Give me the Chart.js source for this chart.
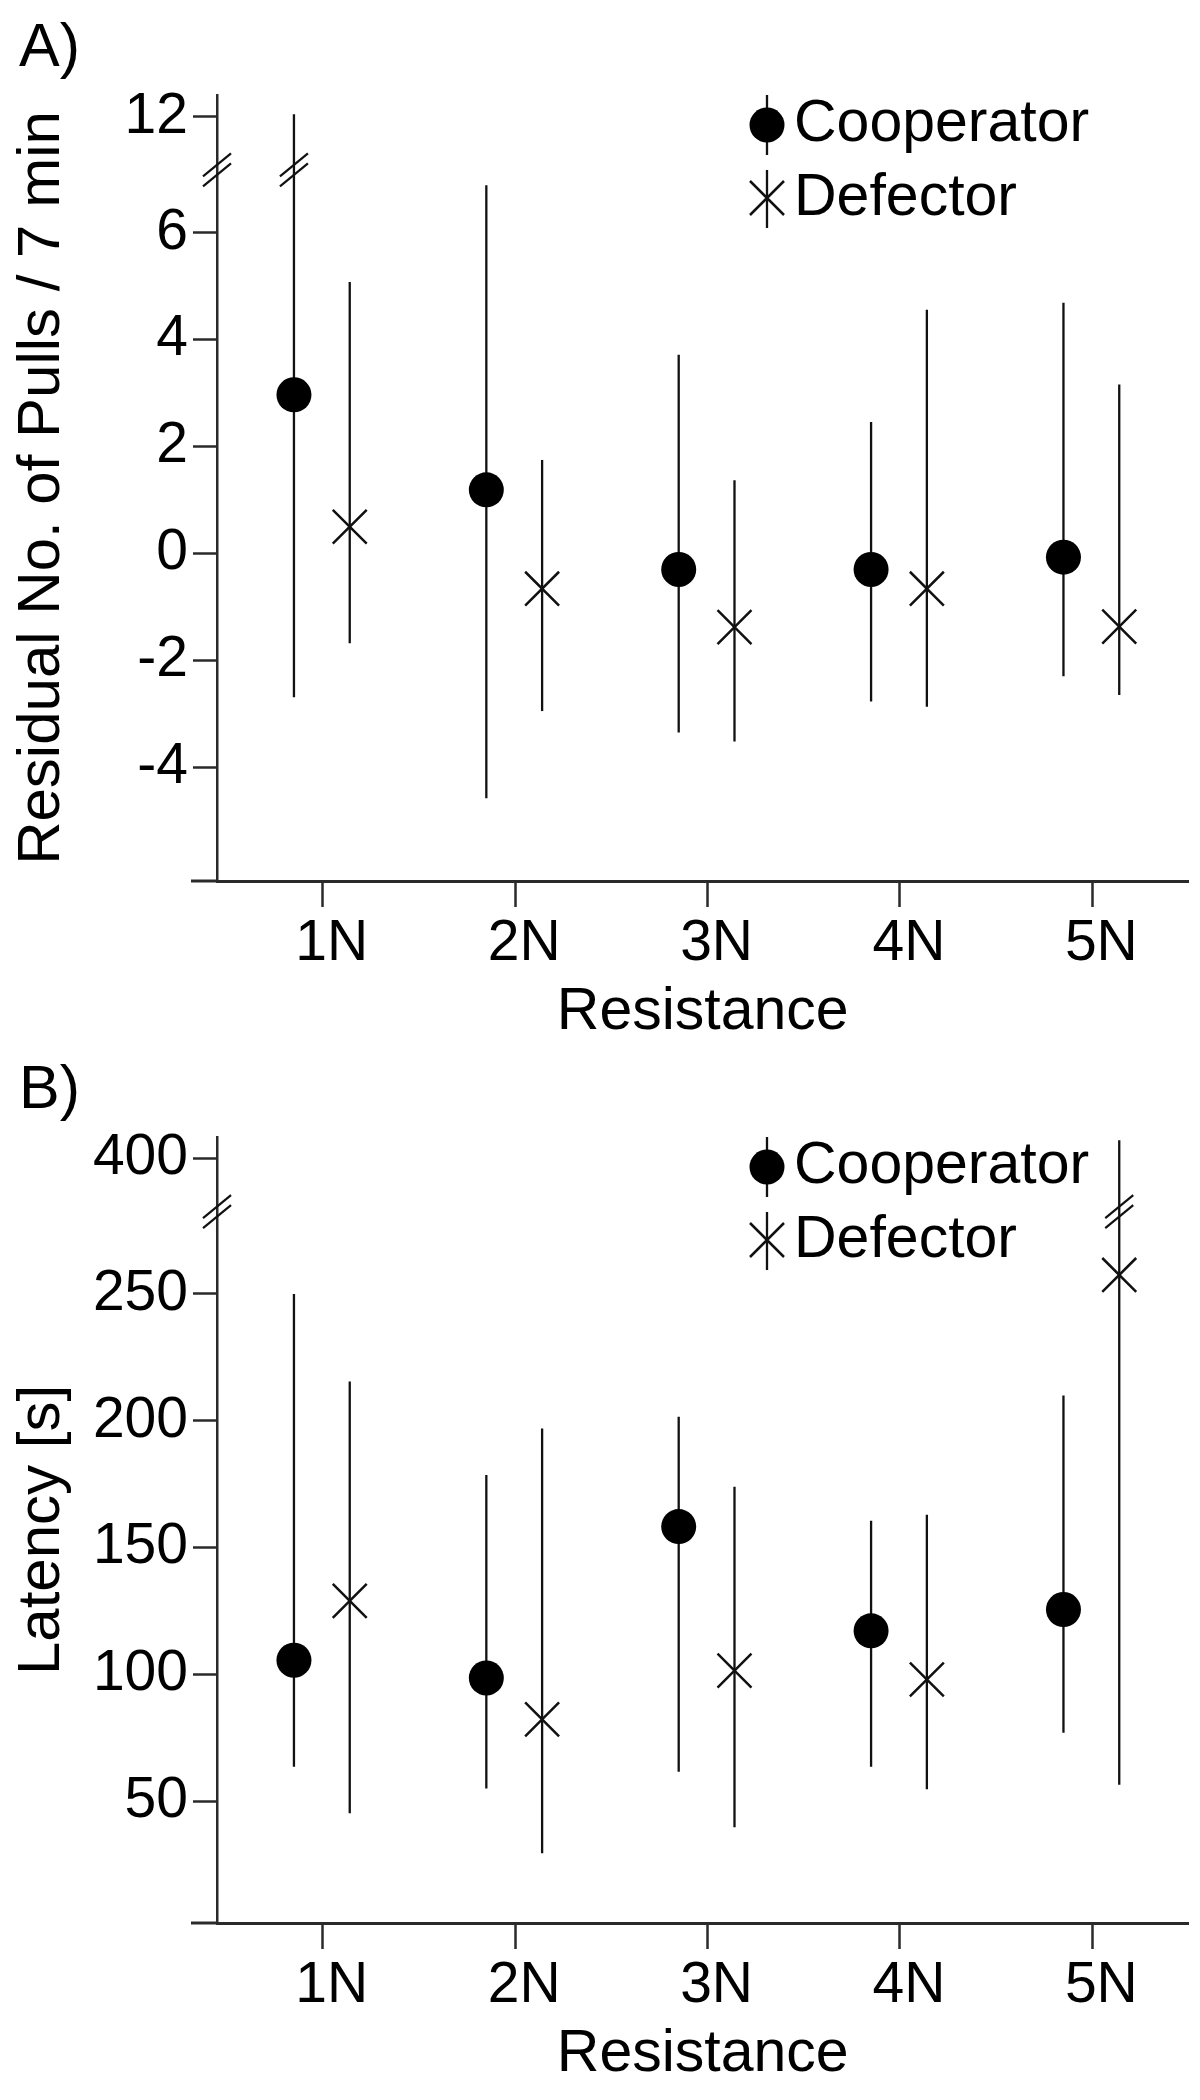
<!DOCTYPE html>
<html lang="en">
<head>
<meta charset="UTF-8">
<title>Cooperator / Defector</title>
<script src="https://cdn.jsdelivr.net/npm/chart.js"></script>
<style>
  body { margin: 0; background: #fff; overflow: hidden; }
  #wrap { position: relative; width: 1200px; height: 2100px; overflow: hidden; }
  canvas { position: absolute; left: 0; }
  #chartA { top: 0; }
  #chartB { top: 1042px; }
</style>
</head>
<body>
<div id="wrap">
  <canvas id="chartA" width="1215" height="1060"></canvas>
  <canvas id="chartB" width="1215" height="1058"></canvas>
</div>
<script>
const categories = ['1N', '2N', '3N', '4N', '5N'];

// A) residual number of pulls / 7 min
const pullsTicks    = [-4, -2, 0, 2, 4, 6, 12];
const pullsCoopMean = [2.97, 1.19, -0.30, -0.30, -0.07];
const pullsCoopLow  = [-2.69, -4.58, -3.35, -2.77, -2.30];
const pullsCoopHigh = [12.05, 6.89, 3.72, 2.46, 4.69];
const pullsDefMean  = [0.50, -0.66, -1.38, -0.66, -1.37];
const pullsDefLow   = [-1.68, -2.95, -3.52, -2.87, -2.65];
const pullsDefHigh  = [5.08, 1.75, 1.37, 4.56, 3.16];

// B) latency [s]
const latTicks    = [50, 100, 150, 200, 250, 400];
const latCoopMean = [105.6, 98.6, 158.3, 117.2, 125.6];
const latCoopLow  = [63.6, 55.0, 61.6, 63.6, 77.0];
const latCoopHigh = [250.0, 178.6, 201.6, 160.6, 210.0];
const latDefMean  = [129.0, 82.3, 101.5, 98.0, 257.5];
const latDefLow   = [45.3, 29.5, 39.8, 54.7, 56.5];
const latDefHigh  = [215.5, 197.0, 174.0, 163.0, 407.0];

const FONT = "'Liberation Sans', Arial, sans-serif";
const INK = '#111';
const AXIS = '#2a2a2a';

function drawBreak(ctx, cx, cy) {
  ctx.save();
  ctx.strokeStyle = INK;
  ctx.lineWidth = 2.2;
  [-5, 5].forEach(o => {
    ctx.beginPath();
    ctx.moveTo(cx - 14, cy + o + 11.5);
    ctx.lineTo(cx + 14, cy + o - 11.5);
    ctx.stroke();
  });
  ctx.restore();
}

// vertical error bars behind the markers, with a // where a bar crosses the break
const errorBars = {
  id: 'errorBars',
  beforeDatasetsDraw(chart, args, opts) {
    const {ctx, scales: {x, y}} = chart;
    ctx.save();
    ctx.strokeStyle = INK;
    ctx.lineWidth = 2.3;
    chart.data.datasets.forEach(ds => {
      ds.data.forEach(p => {
        const px = x.getPixelForValue(p.x);
        ctx.beginPath();
        ctx.moveTo(px, y.getPixelForValue(p.lo));
        ctx.lineTo(px, y.getPixelForValue(p.hi));
        ctx.stroke();
        if (p.cut) drawBreak(ctx, px, y.getPixelForValue(opts.breakAt));
      });
    });
    ctx.restore();
  },
  afterDraw(chart, args, opts) {
    const {ctx, chartArea, scales: {y}} = chart;
    // axis break and the bit of x axis left of the y axis
    drawBreak(ctx, chartArea.left, y.getPixelForValue(opts.breakAt));
    ctx.save();
    ctx.strokeStyle = AXIS;
    ctx.lineWidth = 3;
    ctx.beginPath();
    ctx.moveTo(chartArea.left - 26, chartArea.bottom);
    ctx.lineTo(chartArea.left, chartArea.bottom);
    ctx.stroke();

    // panel letter
    ctx.fillStyle = '#000';
    ctx.font = '61px ' + FONT;
    ctx.textBaseline = 'alphabetic';
    ctx.textAlign = 'left';
    ctx.fillText(opts.panel, 19, 66);

    // legend
    const lx = 767;
    ctx.strokeStyle = INK;
    ctx.lineWidth = 2.3;
    ctx.beginPath();
    ctx.moveTo(lx, 95); ctx.lineTo(lx, 155);
    ctx.moveTo(lx, 170); ctx.lineTo(lx, 228);
    ctx.stroke();
    ctx.fillStyle = '#000';
    ctx.beginPath();
    ctx.arc(lx, 125, 17.5, 0, Math.PI * 2);
    ctx.fill();
    ctx.lineWidth = 2.5;
    ctx.beginPath();
    ctx.moveTo(lx - 17, 181); ctx.lineTo(lx + 17, 215);
    ctx.moveTo(lx - 17, 215); ctx.lineTo(lx + 17, 181);
    ctx.stroke();
    ctx.font = '59px ' + FONT;
    ctx.fillText('Cooperator', 794, 141);
    ctx.fillText('Defector', 794, 215);
    ctx.restore();
  }
};

function makeChart(id, cfg) {
  const disp = v => v > cfg.cutFrom ? v - cfg.shift : v;
  const points = (mean, low, high, dx) => mean.map((m, i) => ({
    x: i + 1 + dx,
    y: disp(m),
    lo: disp(low[i]),
    hi: disp(high[i]),
    cut: high[i] > cfg.cutFrom
  }));
  const font = {family: FONT, size: 57};

  return new Chart(document.getElementById(id), {
    type: 'scatter',
    data: {
      datasets: [
        {
          label: 'Cooperator',
          data: points(cfg.coopMean, cfg.coopLow, cfg.coopHigh, -0.15),
          pointStyle: 'circle',
          pointRadius: 17.5,
          pointBackgroundColor: '#000',
          pointBorderColor: '#000',
          pointBorderWidth: 0,
          clip: false
        },
        {
          label: 'Defector',
          data: points(cfg.defMean, cfg.defLow, cfg.defHigh, 0.14),
          pointStyle: 'crossRot',
          pointRadius: 24,
          pointBorderColor: INK,
          pointBorderWidth: 2.5,
          clip: false
        }
      ]
    },
    options: {
      responsive: false,
      animation: false,
      events: [],
      layout: {padding: {top: 95, right: 11, left: 0, bottom: cfg.padBottom}},
      plugins: {
        legend: {display: false},
        tooltip: {enabled: false},
        errorBars: {breakAt: cfg.breakAt, panel: cfg.panel}
      },
      scales: {
        x: {
          type: 'linear',
          min: 0.45,
          max: 5.5,
          afterBuildTicks: s => { s.ticks = categories.map((c, i) => ({value: i + 1})); },
          afterFit: s => { s.height = 167; s.paddingLeft = 0; s.paddingRight = 0; },
          ticks: {
            callback: (v, i) => categories[i],
            autoSkip: false,
            maxRotation: 0,
            padding: 3,
            labelOffset: 9,
            color: '#000',
            font: font
          },
          grid: {drawOnChartArea: false, drawTicks: true, tickLength: 26, tickWidth: 2.5, tickColor: AXIS},
          border: {display: true, color: AXIS, width: 3},
          title: {display: true, text: 'Resistance', color: '#000', font: {family: FONT, size: 59}, padding: {top: 0, bottom: 0}}
        },
        y: {
          type: 'linear',
          min: cfg.yMin,
          max: cfg.yMax,
          afterBuildTicks: s => { s.ticks = cfg.ticks.map(v => ({value: disp(v)})); },
          afterFit: s => { s.width = 217; },
          ticks: {
            callback: (v, i) => String(cfg.ticks[i]),
            autoSkip: false,
            padding: 5,
            color: '#000',
            font: font
          },
          grid: {drawOnChartArea: false, drawTicks: true, tickLength: 24, tickWidth: 2.5, tickColor: AXIS},
          border: {display: true, color: AXIS, width: 2.5},
          title: {display: true, text: cfg.yTitle, color: '#000', font: {family: FONT, size: 60}, padding: {top: 6, bottom: 0}}
        }
      }
    },
    plugins: [errorBars]
  });
}

makeChart('chartA', {
  panel: 'A)',
  yTitle: 'Residual No. of Pulls / 7 min',
  ticks: pullsTicks,
  coopMean: pullsCoopMean, coopLow: pullsCoopLow, coopHigh: pullsCoopHigh,
  defMean: pullsDefMean, defLow: pullsDefLow, defHigh: pullsDefHigh,
  cutFrom: 8, shift: 3.83, breakAt: 7.18,
  yMin: -6.13, yMax: 8.58,
  padBottom: 12
});

makeChart('chartB', {
  panel: 'B)',
  yTitle: 'Latency [s]',
  ticks: latTicks,
  coopMean: latCoopMean, coopLow: latCoopLow, coopHigh: latCoopHigh,
  defMean: latDefMean, defLow: latDefLow, defHigh: latDefHigh,
  cutFrom: 300, shift: 96.4, breakAt: 282.5,
  yMin: 2, yMax: 311.9,
  padBottom: 10
});
</script>
</body>
</html>
